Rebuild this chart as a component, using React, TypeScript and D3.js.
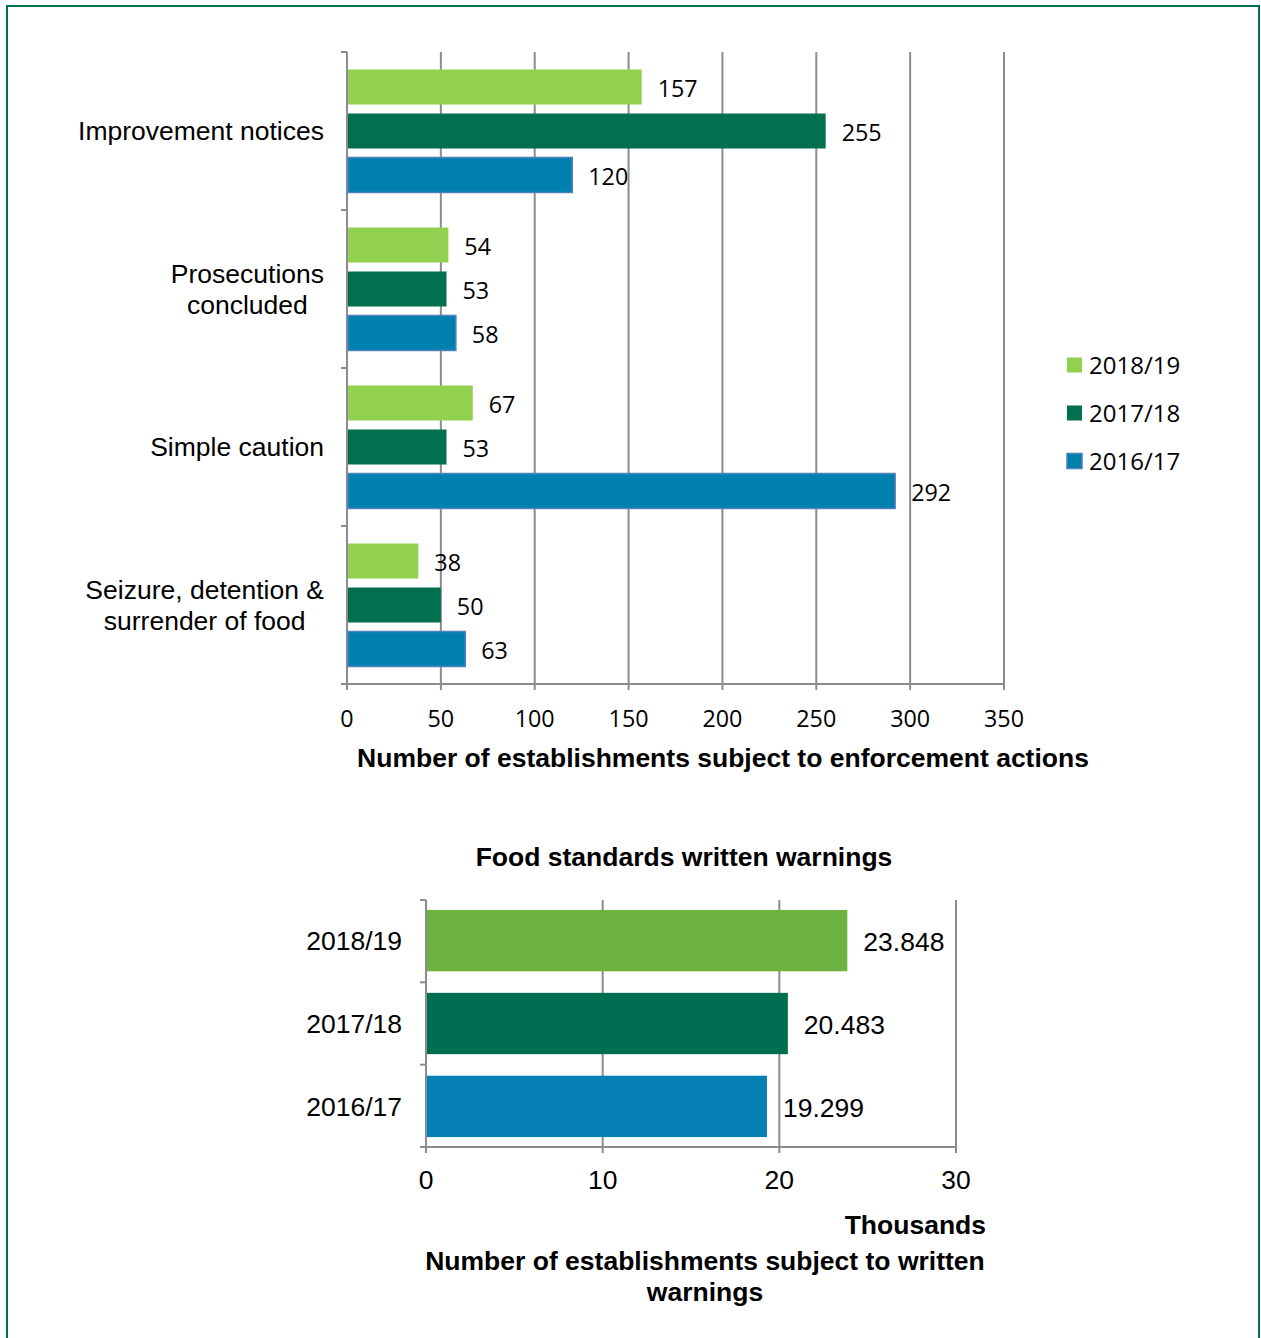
import React, { useEffect, useRef } from "react";
import * as d3 from "d3";

const categoryLines: string[][] = [
  ["Improvement notices"],
  ["Prosecutions", "concluded"],
  ["Simple caution"],
  ["Seizure, detention &", "surrender of food"],
];
const seriesNames = ["2018/19", "2017/18", "2016/17"];
const values2018 = [157, 54, 67, 38];
const values2017 = [255, 53, 53, 50];
const values2016 = [120, 58, 292, 63];
const topTicks = [0, 50, 100, 150, 200, 250, 300, 350];
const topColors = ["#92d050", "#00704f", "#0080ad"];

const warnYears = ["2018/19", "2017/18", "2016/17"];
const warnValues = [23.848, 20.483, 19.299];
const bottomTicks = [0, 10, 20, 30];
const bottomColors = ["#6db33f", "#006f51", "#0580b4"];

const ARIAL = "'Liberation Sans', Arial, sans-serif";
const CAL = "'Open Sans', 'Noto Sans', sans-serif";
const GRID = "#8c8c8c";
const AFS = 26.5;
const CFS = 23.3;

export default function App() {
  const ref = useRef<SVGSVGElement | null>(null);

  useEffect(() => {
    const svg = d3.select(ref.current);
    svg.selectAll("*").remove();

    // frame
    svg.append("rect").attr("x", 7).attr("y", 6).attr("width", 1252).attr("height", 1360)
      .attr("fill", "none").attr("stroke", "#007050").attr("stroke-width", 2);

    // ---------- TOP CHART ----------
    const x = d3.scaleLinear().domain([0, 350]).range([347, 1004]);
    const cats = categoryLines.map((l) => l.join(" "));
    const y = d3.scaleBand<string>().domain(cats).range([52, 684]).paddingInner(0).paddingOuter(0);
    const yInner = d3.scaleBand<string>().domain(seriesNames).range([0, y.bandwidth()])
      .paddingInner(9 / 44).paddingOuter(0.398);
    const allVals = [values2018, values2017, values2016];

    const top = svg.append("g");
    top.selectAll("line.grid").data(topTicks.filter((t) => t > 0)).join("line")
      .attr("x1", (d) => x(d)).attr("x2", (d) => x(d)).attr("y1", 52).attr("y2", 684)
      .attr("stroke", GRID).attr("stroke-width", 2);
    top.append("line").attr("x1", 341).attr("x2", 1004).attr("y1", 684).attr("y2", 684)
      .attr("stroke", GRID).attr("stroke-width", 2);
    top.selectAll("line.xt").data(topTicks).join("line")
      .attr("x1", (d) => x(d)).attr("x2", (d) => x(d)).attr("y1", 684).attr("y2", 690)
      .attr("stroke", GRID).attr("stroke-width", 2);
    top.append("line").attr("x1", 347).attr("x2", 347).attr("y1", 52).attr("y2", 690)
      .attr("stroke", GRID).attr("stroke-width", 2);
    const bounds = cats.map((c) => y(c)!).concat([684]);
    top.selectAll("line.yt").data(bounds).join("line")
      .attr("x1", 341).attr("x2", 347).attr("y1", (d) => d).attr("y2", (d) => d)
      .attr("stroke", GRID).attr("stroke-width", 2);

    seriesNames.forEach((s, si) => {
      const vals = allVals[si];
      const g = top.append("g");
      g.selectAll("rect").data(vals).join("rect")
        .attr("x", x(0) + 1)
        .attr("y", (_, i) => y(cats[i])! + yInner(s)!)
        .attr("width", (d) => x(d) - x(0) - 1)
        .attr("height", yInner.bandwidth())
        .attr("fill", topColors[si])
        .attr("stroke", si === 2 ? "#4f81bd" : "none")
        .attr("stroke-width", si === 2 ? 1.5 : 0);
      g.selectAll("text").data(vals).join("text")
        .attr("x", (d) => x(d) + 16)
        .attr("y", (_, i) => y(cats[i])! + yInner(s)! + yInner.bandwidth() / 2 + 1.5)
        .attr("dy", "0.35em")
        .attr("font-family", CAL).attr("font-size", CFS).attr("fill", "#000")
        .text((d) => String(d));
    });

    top.selectAll("text.xl").data(topTicks).join("text")
      .attr("x", (d) => x(d)).attr("y", 719).attr("dy", "0.35em")
      .attr("text-anchor", "middle").attr("font-family", CAL).attr("font-size", CFS)
      .text((d) => String(d));

    categoryLines.forEach((lines, i) => {
      const g = top.append("g");
      const cy = y(cats[i])! + y.bandwidth() / 2;
      const lh = 31;
      const texts = lines.map((ln, li) =>
        g.append("text").attr("x", 0)
          .attr("y", cy + (li - (lines.length - 1) / 2) * lh)
          .attr("dy", "0.35em").attr("text-anchor", "middle")
          .attr("font-family", ARIAL).attr("font-size", AFS).text(ln)
      );
      const maxW = d3.max(texts, (t) => (t.node() as SVGTextElement).getComputedTextLength()) || 0;
      g.attr("transform", `translate(${347 - 23 - maxW / 2},0)`);
    });

    top.append("text").attr("x", 723).attr("y", 758).attr("dy", "0.35em")
      .attr("text-anchor", "middle").attr("font-family", ARIAL).attr("font-weight", "bold")
      .attr("font-size", AFS).text("Number of establishments subject to enforcement actions");

    // legend
    const lg = svg.append("g");
    seriesNames.forEach((s, i) => {
      const ly = 365 + i * 48;
      lg.append("rect").attr("x", 1067).attr("y", ly - 7.5).attr("width", 15).attr("height", 15)
        .attr("fill", topColors[i]).attr("stroke", i === 2 ? "#4f81bd" : "none").attr("stroke-width", 1.5);
      lg.append("text").attr("x", 1089).attr("y", ly + 1).attr("dy", "0.35em")
        .attr("font-family", CAL).attr("font-size", 24).text(s);
    });

    // ---------- BOTTOM CHART ----------
    const bx = d3.scaleLinear().domain([0, 30]).range([426, 956]);
    const by = d3.scaleBand<string>().domain(warnYears).range([900, 1147])
      .paddingInner(0.26).paddingOuter(0.12);
    const bot = svg.append("g");

    bot.append("text").attr("x", 684).attr("y", 857).attr("dy", "0.35em")
      .attr("text-anchor", "middle").attr("font-family", ARIAL).attr("font-weight", "bold")
      .attr("font-size", AFS).text("Food standards written warnings");

    bot.selectAll("line.grid").data(bottomTicks.filter((t) => t > 0)).join("line")
      .attr("x1", (d) => bx(d)).attr("x2", (d) => bx(d)).attr("y1", 900).attr("y2", 1147)
      .attr("stroke", GRID).attr("stroke-width", 2);
    bot.append("line").attr("x1", 420).attr("x2", 956).attr("y1", 1147).attr("y2", 1147)
      .attr("stroke", GRID).attr("stroke-width", 2);
    bot.selectAll("line.xt").data(bottomTicks).join("line")
      .attr("x1", (d) => bx(d)).attr("x2", (d) => bx(d)).attr("y1", 1147).attr("y2", 1153)
      .attr("stroke", GRID).attr("stroke-width", 2);
    bot.append("line").attr("x1", 426).attr("x2", 426).attr("y1", 900).attr("y2", 1153)
      .attr("stroke", GRID).attr("stroke-width", 2);
    const bb = [0, 1, 2, 3].map((k) => 900 + (k * (1147 - 900)) / 3);
    bot.selectAll("line.yt").data(bb).join("line")
      .attr("x1", 420).attr("x2", 426).attr("y1", (d) => d).attr("y2", (d) => d)
      .attr("stroke", GRID).attr("stroke-width", 2);

    bot.selectAll("rect.bar").data(warnValues).join("rect")
      .attr("x", bx(0) + 1).attr("y", (_, i) => by(warnYears[i])!)
      .attr("width", (d) => bx(d) - bx(0) - 1).attr("height", by.bandwidth())
      .attr("fill", (_, i) => bottomColors[i]);
    bot.selectAll("text.val").data(warnValues).join("text")
      .attr("x", (d) => bx(d) + 16).attr("y", (_, i) => by(warnYears[i])! + by.bandwidth() / 2 + 1)
      .attr("dy", "0.35em").attr("font-family", ARIAL).attr("font-size", AFS)
      .text((d) => d.toFixed(3));
    bot.selectAll("text.cat").data(warnYears).join("text")
      .attr("x", 402).attr("y", (d) => by(d)! + by.bandwidth() / 2).attr("dy", "0.35em")
      .attr("text-anchor", "end").attr("font-family", ARIAL).attr("font-size", AFS).text((d) => d);
    bot.selectAll("text.xl").data(bottomTicks).join("text")
      .attr("x", (d) => bx(d)).attr("y", 1180).attr("dy", "0.35em")
      .attr("text-anchor", "middle").attr("font-family", ARIAL).attr("font-size", AFS)
      .text((d) => String(d));

    bot.append("text").attr("x", 986).attr("y", 1225).attr("dy", "0.35em")
      .attr("text-anchor", "end").attr("font-family", ARIAL).attr("font-weight", "bold")
      .attr("font-size", AFS).text("Thousands");
    bot.append("text").attr("x", 705).attr("y", 1261).attr("dy", "0.35em")
      .attr("text-anchor", "middle").attr("font-family", ARIAL).attr("font-weight", "bold")
      .attr("font-size", AFS).text("Number of establishments subject to written");
    bot.append("text").attr("x", 705).attr("y", 1292).attr("dy", "0.35em")
      .attr("text-anchor", "middle").attr("font-family", ARIAL).attr("font-weight", "bold")
      .attr("font-size", AFS).text("warnings");
  }, []);

  return (
    <svg
      ref={ref}
      width={1261}
      height={1338}
      style={{ position: "absolute", left: 0, top: 0, background: "#fff" }}
    />
  );
}
